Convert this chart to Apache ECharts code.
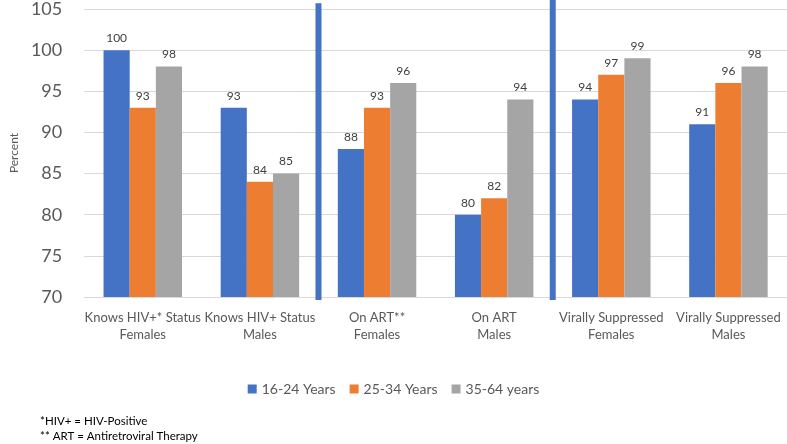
<!DOCTYPE html>
<html><head><meta charset="utf-8">
<script src="https://cdn.jsdelivr.net/npm/echarts@6/dist/echarts.min.js"></script>
<style>html,body{margin:0;padding:0;background:#fff}#c{width:787px;height:444px}</style>
</head><body><div id="c"></div>
<script>
const categories = ['Knows HIV+* Status\nFemales','Knows HIV+ Status\nMales','On ART**\nFemales','On ART\nMales','Virally Suppressed\nFemales','Virally Suppressed\nMales'];
const seriesNames = ['16-24 Years','25-34 Years','35-64 years'];
const age16to24 = [100, 93, 88, 80, 94, 91];
const age25to34 = [93, 84, 93, 82, 97, 96];
const age35to64 = [98, 85, 96, 94, 99, 98];
const colors = ['#4472C4','#ED7D31','#A5A5A5'];
const dividerPositions = [2, 4];
const yTicks = {min:70, max:105, interval:5};
const footnotes = ['*HIV+ = HIV-Positive','** ART = Antiretroviral Therapy'];

const FONT = 'Lato';
const chart = echarts.init(document.getElementById('c'), null, {renderer:'canvas'});
const mkBar = (name, data, color) => ({
  name, type:'bar', data, barGap:'0%', barCategoryGap:'33%',
  itemStyle:{color},
  label:{show:true, position:'top', color:'#404040', fontSize:12, fontFamily:FONT, distance:6},
  z:2
});
const dividerSeries = dividerPositions.map((p,i)=>({
  type:'line', xAxisIndex:1, yAxisIndex:1, silent:true, clip:false,
  symbol:'none', data:[[p,-0.01],[p, i===0?1.02:1.04]],
  lineStyle:{color:'#4472C4', width:6}, z:5
}));
chart.setOption({
  animation:false,
  textStyle:{fontFamily:FONT},
  grid:{left:67, right:0, top:8, bottom:147},
  legend:{data:seriesNames, bottom:43, left:'center', itemWidth:9, itemHeight:9, itemGap:14, icon:'rect',
    textStyle:{color:'#595959', fontSize:14, fontFamily:FONT}},
  xAxis:[{type:'category', data:categories,
    axisLine:{lineStyle:{color:'#D9D9D9'}}, axisTick:{show:false},
    axisLabel:{color:'#595959', fontSize:13, lineHeight:17, margin:12, fontFamily:FONT, interval:0}},
    {type:'value', min:0, max:6, show:false}],
  yAxis:[{type:'value', min:yTicks.min, max:yTicks.max, interval:yTicks.interval,
    name:'Percent', nameLocation:'middle', nameGap:58, nameRotate:90,
    nameTextStyle:{color:'#595959', fontSize:12, fontFamily:FONT},
    axisLine:{show:false}, axisTick:{show:false},
    splitLine:{lineStyle:{color:'#D9D9D9'}},
    axisLabel:{color:'#595959', fontSize:18, margin:22, fontFamily:FONT}},
    {type:'value', min:0, max:1, show:false}],
  graphic:[{type:'text', left:40, top:414, style:{text:footnotes.join('\n'), fill:'#000', fontSize:11.5, lineHeight:15, fontFamily:FONT}}],
  series:[mkBar(seriesNames[0], age16to24, colors[0]), mkBar(seriesNames[1], age25to34, colors[1]), mkBar(seriesNames[2], age35to64, colors[2])].concat(dividerSeries)
});
</script></body></html>
